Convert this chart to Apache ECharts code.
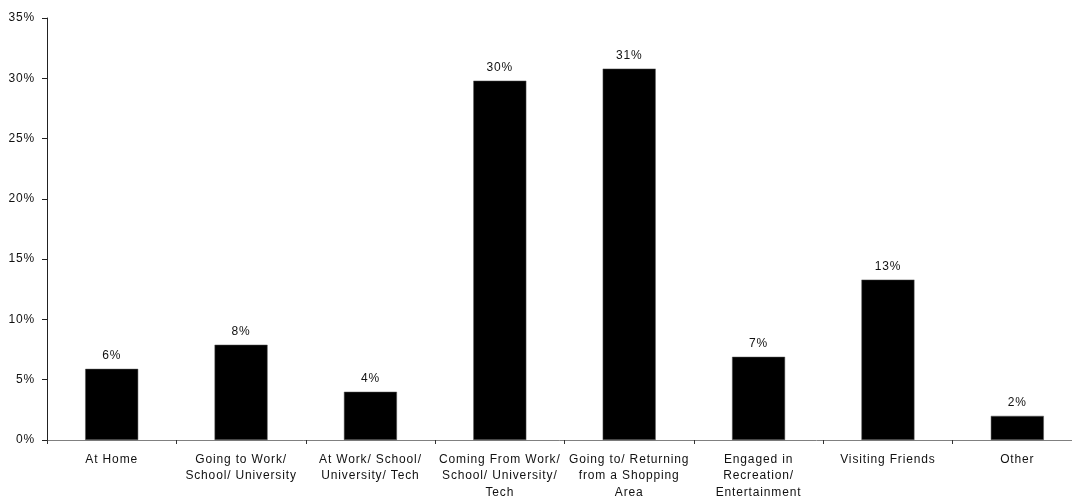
<!DOCTYPE html>
<html><head><meta charset="utf-8">
<script src="https://cdn.jsdelivr.net/npm/echarts@6/dist/echarts.min.js"></script>
<style>html,body{margin:0;padding:0;background:#fff}#c{width:1072px;height:498px}</style>
</head><body><div id="c"></div>
<script>
const categories = ["At Home", "Going to Work/\nSchool/ University", "At Work/ School/\nUniversity/ Tech", "Coming From Work/\nSchool/ University/\nTech", "Going to/ Returning\nfrom a Shopping\nArea", "Engaged in\nRecreation/\nEntertainment", "Visiting Friends", "Other"];
const values = [5.9, 7.9, 4.0, 29.8, 30.8, 6.9, 13.3, 2.0];
const yTicks = [0, 5, 10, 15, 20, 25, 30, 35];

// widen glyph spacing slightly to match the reference's text rendering
(function () {
  const d = Object.getOwnPropertyDescriptor(CanvasRenderingContext2D.prototype, 'font');
  if (d && d.set && 'letterSpacing' in CanvasRenderingContext2D.prototype) {
    Object.defineProperty(CanvasRenderingContext2D.prototype, 'font', {
      configurable: true,
      get() { return d.get.call(this); },
      set(v) { d.set.call(this, v); this.letterSpacing = '0.85px'; }
    });
  }
})();

const FONT = 'Liberation Sans, Arial, sans-serif';
const chart = echarts.init(document.getElementById('c'), null, {renderer: 'canvas'});
chart.setOption({
  animation: false,
  grid: {left: 47, top: 18, height: 422, width: 1035, containLabel: false, outerBoundsMode: 'none'},
  xAxis: {
    type: 'category', data: categories,
    axisLine: {lineStyle: {color: '#808080', width: 1}},
    axisTick: {show: true, alignWithLabel: false, length: 4, lineStyle: {color: '#333'}},
    axisLabel: {interval: 0, color: '#111', fontFamily: FONT, fontSize: 12, lineHeight: 16.5, margin: 11}
  },
  yAxis: {
    type: 'value', min: yTicks[0], max: yTicks[yTicks.length - 1], interval: 5,
    splitLine: {show: false},
    axisLine: {show: true, lineStyle: {color: '#222', width: 1}},
    axisTick: {show: true, inside: false, length: 5, lineStyle: {color: '#222'}},
    axisLabel: {formatter: v => v + '%', color: '#111', fontFamily: FONT, fontSize: 12, margin: 12}
  },
  series: [{
    type: 'bar', data: values, barWidth: 53,
    itemStyle: {color: '#000', borderColor: '#555', borderWidth: 0.5},
    label: {show: true, position: 'top', distance: 7, formatter: p => Math.round(p.value) + '%', color: '#111', fontFamily: FONT, fontSize: 12}
  }]
});
</script></body></html>
